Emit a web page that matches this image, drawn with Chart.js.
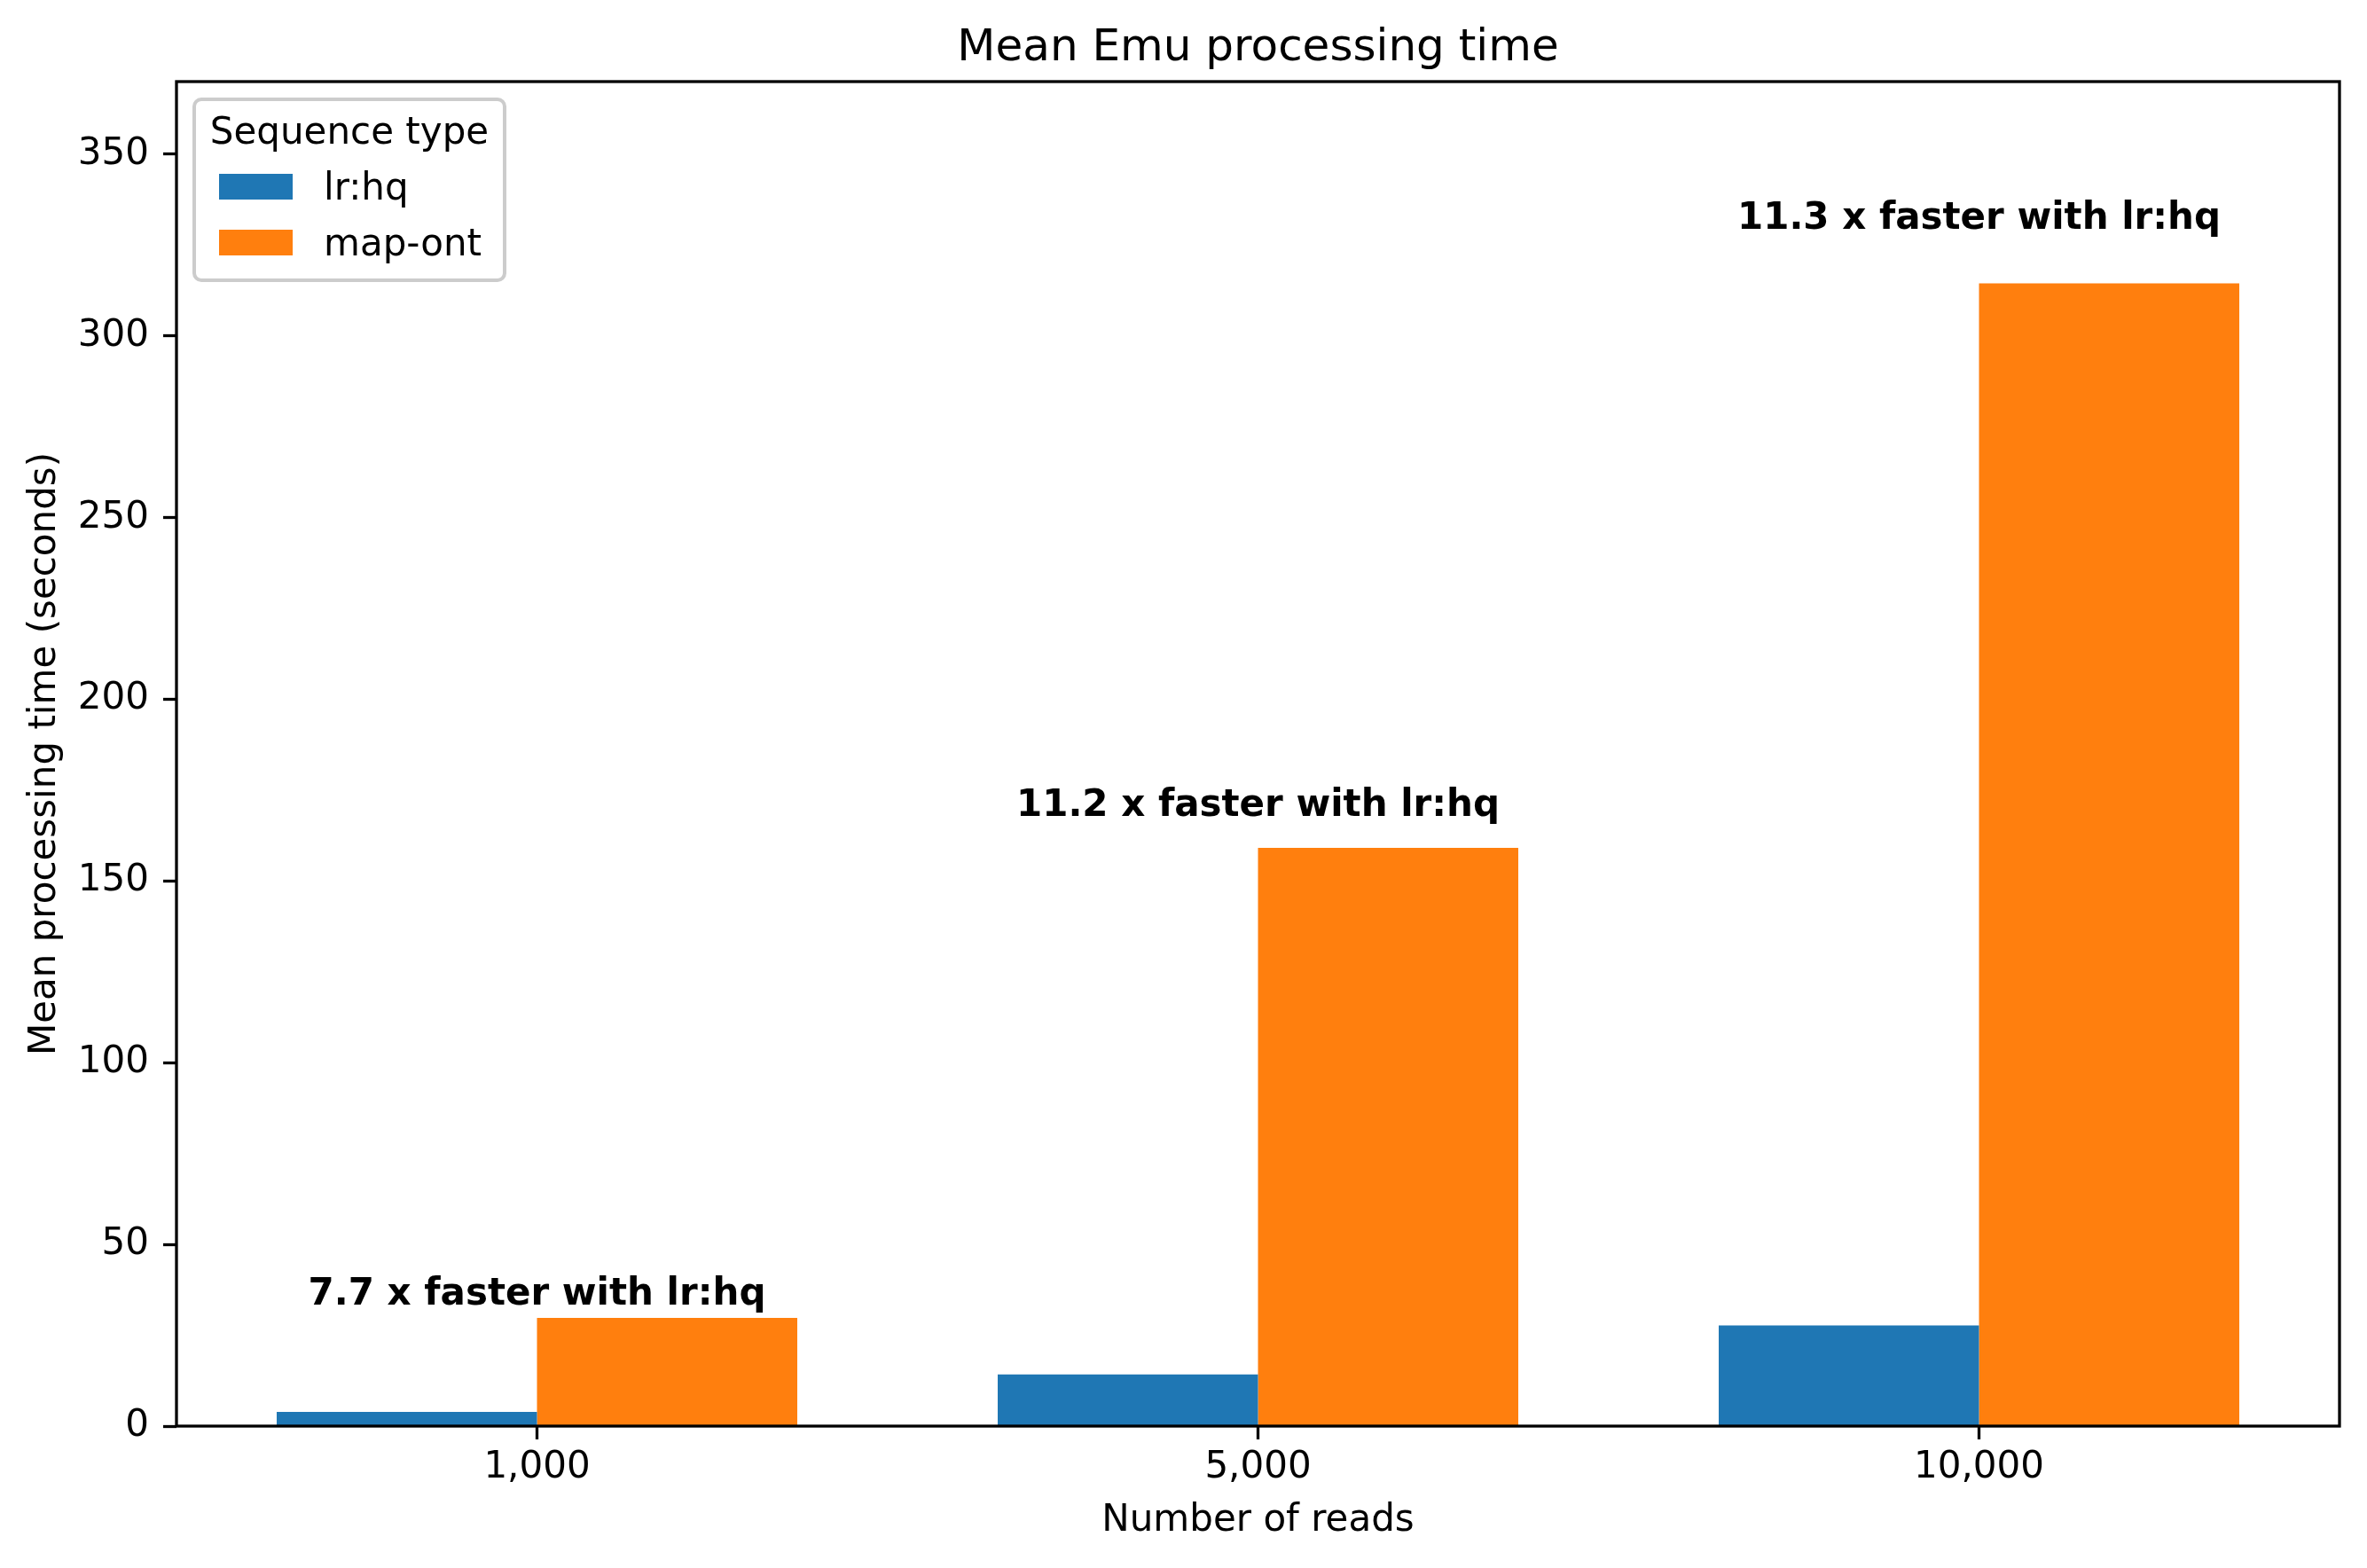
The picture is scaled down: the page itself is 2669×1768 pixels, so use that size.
<!DOCTYPE html>
<html>
<head>
<meta charset="utf-8">
<title>Mean Emu processing time</title>
<script src="https://cdn.jsdelivr.net/npm/chart.js@4.4.1/dist/chart.umd.min.js"></script>
<style>
    html, body { margin: 0; padding: 0; background: #ffffff; }
    #chart { display: block; }
</style>
</head>
<body>
<canvas id="chart" width="2669" height="1768"></canvas>
<script>
// Values
const readCounts = ['1,000', '5,000', '10,000'];
const seriesNames = ['lr:hq', 'map-ont'];
const lrhqTimes = [3.9, 14.2, 27.7];
const mapOntTimes = [29.8, 159.1, 314.5];
const speedupLabels = ['7.7 x faster with lr:hq', '11.2 x faster with lr:hq', '11.3 x faster with lr:hq'];
const yTickValues = [0, 50, 100, 150, 200, 250, 300, 350];
const yMax = 370;

const seriesColors = ['#1f77b4', '#ff7f0e'];
const labelLift = 1.04; // speedup text sits just above the map-ont bar
const fontFamily = '"DejaVu Sans", sans-serif';

Chart.defaults.font.family = fontFamily;
Chart.defaults.color = '#000000';

// Center the title over the plot area, not the whole canvas
const titleOverAxesPlugin = {
    id: 'titleOverAxes',
    afterLayout(chart) {
        if (chart.titleBlock) {
            chart.titleBlock.left = chart.chartArea.left;
            chart.titleBlock.right = chart.chartArea.right;
        }
    }
};

// Draw the four spines on top of the bars
const framePlugin = {
    id: 'frame',
    afterDatasetsDraw(chart) {
        const { ctx, chartArea } = chart;
        ctx.save();
        ctx.strokeStyle = '#000000';
        ctx.lineWidth = 3.3;
        ctx.strokeRect(chartArea.left, chartArea.top,
            chartArea.right - chartArea.left, chartArea.bottom - chartArea.top);
        ctx.restore();
    }
};

// Bold "x faster" text above each group
const speedupPlugin = {
    id: 'speedup',
    afterDatasetsDraw(chart) {
        const { ctx, scales } = chart;
        ctx.save();
        ctx.font = 'bold 42px ' + fontFamily;
        ctx.fillStyle = '#000000';
        ctx.textAlign = 'center';
        ctx.textBaseline = 'bottom';
        speedupLabels.forEach((text, i) => {
            const x = scales.x.getPixelForValue(i);
            const y = scales.y.getPixelForValue(mapOntTimes[i] * labelLift);
            ctx.fillText(text, x, y);
        });
        ctx.restore();
    }
};

// Matplotlib style legend box inside the plot, upper left
const boxLegendPlugin = {
    id: 'boxLegend',
    afterDraw(chart) {
        const { ctx, chartArea } = chart;
        const x0 = chartArea.left + 20;
        const y0 = chartArea.top + 20;
        const w = 350;
        const h = 204;
        const r = 8;

        ctx.save();
        ctx.beginPath();
        ctx.roundRect(x0, y0, w, h, r);
        ctx.fillStyle = 'rgba(255,255,255,0.8)';
        ctx.fill();
        ctx.lineWidth = 4;
        ctx.strokeStyle = '#cccccc';
        ctx.stroke();

        ctx.fillStyle = '#000000';
        ctx.font = '42px ' + fontFamily;
        ctx.textBaseline = 'alphabetic';
        ctx.textAlign = 'center';
        ctx.fillText('Sequence type', x0 + w / 2, y0 + 50);

        ctx.textAlign = 'left';
        chart.data.datasets.forEach((ds, i) => {
            const rowTop = y0 + 84 + i * 63;
            ctx.fillStyle = ds.backgroundColor;
            ctx.fillRect(x0 + 28, rowTop, 83, 29);
            ctx.fillStyle = '#000000';
            ctx.fillText(ds.label, x0 + 146, rowTop + 29);
        });
        ctx.restore();
    }
};

const ctx = document.getElementById('chart').getContext('2d');
const chart = new Chart(ctx, {
    type: 'bar',
    data: {
        labels: readCounts,
        datasets: [
            {
                label: seriesNames[0],
                data: lrhqTimes,
                backgroundColor: seriesColors[0],
                borderWidth: 0
            },
            {
                label: seriesNames[1],
                data: mapOntTimes,
                backgroundColor: seriesColors[1],
                borderWidth: 0
            }
        ]
    },
    options: {
        responsive: false,
        animation: false,
        devicePixelRatio: 1,
        datasets: {
            bar: {
                barPercentage: 1.0,
                categoryPercentage: 0.722
            }
        },
        layout: {
            padding: { left: 0, right: 31, top: 0, bottom: 0 }
        },
        plugins: {
            legend: { display: false },
            tooltip: { enabled: false },
            title: {
                display: true,
                text: 'Mean Emu processing time',
                color: '#000000',
                font: { size: 50, weight: 'normal', lineHeight: 1.2 },
                padding: { top: 25, bottom: 7 }
            }
        },
        scales: {
            x: {
                grid: {
                    offset: false,
                    drawOnChartArea: false,
                    drawTicks: true,
                    tickLength: 15,
                    tickWidth: 3.3,
                    tickColor: '#000000'
                },
                border: { display: false },
                ticks: {
                    color: '#000000',
                    font: { size: 42 },
                    padding: 7,
                    maxRotation: 0
                },
                title: {
                    display: true,
                    text: 'Number of reads',
                    color: '#000000',
                    font: { size: 42, lineHeight: 1.2 },
                    padding: { top: 0, bottom: 28 }
                },
                afterFit(scale) {
                    scale.height = 160;
                }
            },
            y: {
                min: 0,
                max: yMax,
                grid: {
                    drawOnChartArea: false,
                    drawTicks: true,
                    tickLength: 15,
                    tickWidth: 3.3,
                    tickColor: '#000000'
                },
                border: { display: false },
                ticks: {
                    color: '#000000',
                    font: { size: 42 },
                    padding: 16
                },
                afterBuildTicks(scale) {
                    scale.ticks = yTickValues.map(v => ({ value: v }));
                },
                title: {
                    display: true,
                    text: 'Mean processing time (seconds)',
                    color: '#000000',
                    font: { size: 42, lineHeight: 1.2 },
                    padding: { top: 26, bottom: 0 }
                },
                afterFit(scale) {
                    scale.width = 199;
                }
            }
        }
    },
    plugins: [titleOverAxesPlugin, framePlugin, speedupPlugin, boxLegendPlugin]
});
</script>
</body>
</html>
